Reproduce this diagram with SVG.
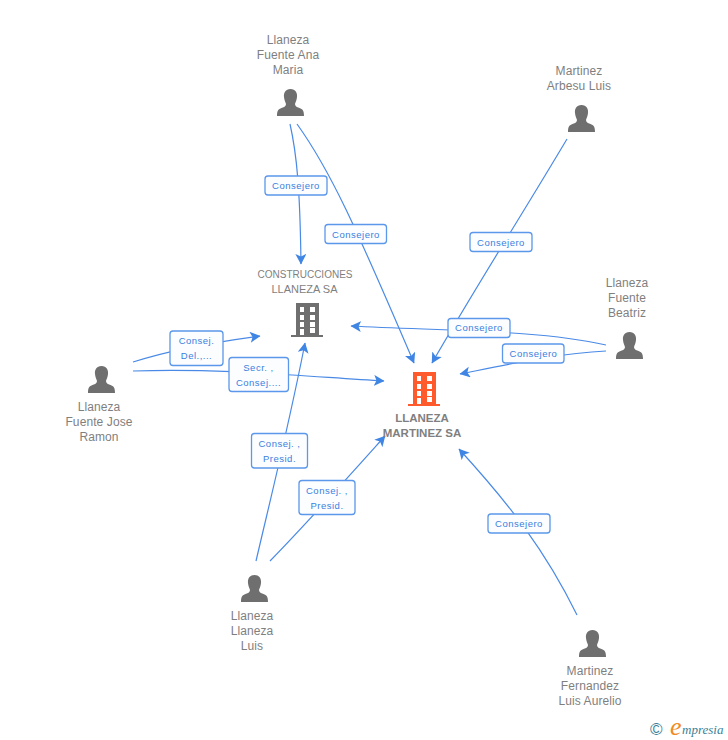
<svg xmlns="http://www.w3.org/2000/svg" width="728" height="740" viewBox="0 0 728 740">
<style>
.n{font:12px "Liberation Sans",Arial,sans-serif;fill:#7f7f7f;text-anchor:middle;letter-spacing:.1px}
.c{font:10px "Liberation Sans",Arial,sans-serif;fill:#7f7f7f;text-anchor:middle}
.d{font:11px "Liberation Sans",Arial,sans-serif;fill:#7f7f7f;text-anchor:middle}
.b{font:bold 11.5px "Liberation Sans",Arial,sans-serif;fill:#7f7f7f;text-anchor:middle}
.l{font:9.5px "Liberation Sans",Arial,sans-serif;fill:#3a80e0;text-anchor:middle;letter-spacing:.5px}
.e{fill:none;stroke:#4a8ae6;stroke-width:1.2}
.r{fill:#fcfdff;stroke:#5b97ea;stroke-width:1.3}
.a{fill:#3f85e4}
</style>
<defs>
<marker id="h" markerUnits="userSpaceOnUse" markerWidth="12" markerHeight="12" refX="10" refY="5.5" orient="auto"><path class="a" d="M10.5,5.5 L0,0 L2.5,5.5 L0,11Z"/></marker>
<symbol id="p" overflow="visible"><path d="M0,-0 C-5,0 -7,4 -6.5,8 C-6.3,11 -5,13 -4.5,15 C-4.5,17 -6,18 -9,19 C-12,20 -13.5,21.5 -13.5,27 L13.5,27 C13.5,21.5 12,20 9,19 C6,18 4.5,17 4.5,15 C5,13 6.3,11 6.5,8 C7,4 5,0 0,0Z" fill="#6f6f6f"/></symbol>
<symbol id="b" overflow="visible"><path fill-rule="evenodd" d="M5,0 H28 V32 H32 V34 H0 V32 H5Z M9,4 V9 H13 V4Z M19,4 V9 H24 V4Z M9,12 V17 H13 V12Z M19,12 V17 H24 V12Z M9,19 V24 H13 V19Z M19,19 V24 H24 V19Z M9,26 V32 H13 V26Z M19,25 V30 H24 V25Z"/></symbol>
</defs>
<rect width="728" height="740" fill="#fff"/>
<g id="connectors">
<path class="e" marker-end="url(#h)" d="M290,124 C297,155 300,190 301,264"/>
<path class="e" marker-end="url(#h)" d="M297,124 C330,170 355,225 414,363"/>
<path class="e" marker-end="url(#h)" d="M567,139 C520,218 480,280 432,363"/>
<path class="e" marker-end="url(#h)" d="M606,345 C540,330 450,331 351,326"/>
<path class="e" marker-end="url(#h)" d="M606,351 C560,353 510,364 460,374"/>
<path class="e" marker-end="url(#h)" d="M133,362 C170,350 215,342 260,336"/>
<path class="e" marker-end="url(#h)" d="M133,371 C220,368 300,376 384,381"/>
<path class="e" marker-end="url(#h)" d="M256,561 C275,480 290,420 305,343"/>
<path class="e" marker-end="url(#h)" d="M270,561 C310,520 350,475 385,436"/>
<path class="e" marker-end="url(#h)" d="M577,615 C545,550 510,505 459,449"/>
</g>
<g id="edge-labels">
<rect class="r" x="265" y="176" width="62" height="19" rx="3"/><text class="l" x="296" y="189">Consejero</text>
<rect class="r" x="325" y="224.500" width="61.500" height="19" rx="3"/><text class="l" x="356" y="238">Consejero</text>
<rect class="r" x="470" y="232.500" width="62" height="19" rx="3"/><text class="l" x="501" y="246">Consejero</text>
<rect class="r" x="448" y="318.500" width="62" height="19" rx="3"/><text class="l" x="479" y="331">Consejero</text>
<rect class="r" x="502.500" y="344" width="61.500" height="19" rx="3"/><text class="l" x="533.500" y="357">Consejero</text>
<rect class="r" x="488" y="514" width="62" height="19" rx="3"/><text class="l" x="519" y="527">Consejero</text>
<rect class="r" x="170" y="331" width="53" height="34.500" rx="3"/><text class="l" x="196.500" y="344">Consej.</text><text class="l" x="196.500" y="359">Del.,...</text>
<rect class="r" x="229" y="357.500" width="59.500" height="34" rx="3"/><text class="l" x="258.500" y="371">Secr. ,</text><text class="l" x="258.500" y="386">Consej....</text>
<rect class="r" x="251.500" y="433.500" width="56" height="34.500" rx="3"/><text class="l" x="279.500" y="447">Consej. ,</text><text class="l" x="279.500" y="462">Presid.</text>
<rect class="r" x="299" y="480.500" width="56" height="34" rx="3"/><text class="l" x="327" y="494">Consej. ,</text><text class="l" x="327" y="509">Presid.</text>
</g>
<g id="node-anamaria"><text class="n" x="288" y="44">Llaneza</text><text class="n" x="288" y="59">Fuente Ana</text><text class="n" x="288" y="74">Maria</text><use href="#p" x="290.500" y="89"/></g>
<g id="node-arbesu"><text class="n" x="579" y="75">Martinez</text><text class="n" x="579" y="90">Arbesu Luis</text><use href="#p" x="581.500" y="105"/></g>
<g id="node-beatriz"><text class="n" x="627" y="287">Llaneza</text><text class="n" x="627" y="302">Fuente</text><text class="n" x="627" y="317">Beatriz</text><use href="#p" x="629.500" y="332"/></g>
<g id="node-joseramon"><text class="n" x="99" y="411">Llaneza</text><text class="n" x="99" y="426">Fuente Jose</text><text class="n" x="99" y="441">Ramon</text><use href="#p" x="101.500" y="366"/></g>
<g id="node-luis"><text class="n" x="252" y="620">Llaneza</text><text class="n" x="252" y="635">Llaneza</text><text class="n" x="252" y="650">Luis</text><use href="#p" x="254.500" y="575"/></g>
<g id="node-aurelio"><text class="n" x="590" y="675">Martinez</text><text class="n" x="590" y="690">Fernandez</text><text class="n" x="590" y="705">Luis Aurelio</text><use href="#p" x="592.500" y="630"/></g>
<g id="node-construcciones"><text class="c" x="305" y="278">CONSTRUCCIONES</text><text class="d" x="304.500" y="293">LLANEZA SA</text><use href="#b" x="291" y="303" fill="#6f6f6f"/></g>
<g id="node-llaneza"><use href="#b" x="408" y="372" fill="#ff5a2c"/><text class="b" x="422" y="422">LLANEZA</text><text class="b" x="422" y="437">MARTINEZ SA</text></g>
<g id="footer"><text x="650" y="735" font-family="'Liberation Sans',sans-serif" font-size="17" fill="#3d7f96">©</text><text x="670" y="735" font-family="'Liberation Serif',serif" font-style="italic" font-size="26" fill="#f28a1e">e</text><text x="682" y="734" font-family="'Liberation Serif',serif" font-style="italic" font-size="13" fill="#3d7f96">mpresia</text></g>
</svg>
